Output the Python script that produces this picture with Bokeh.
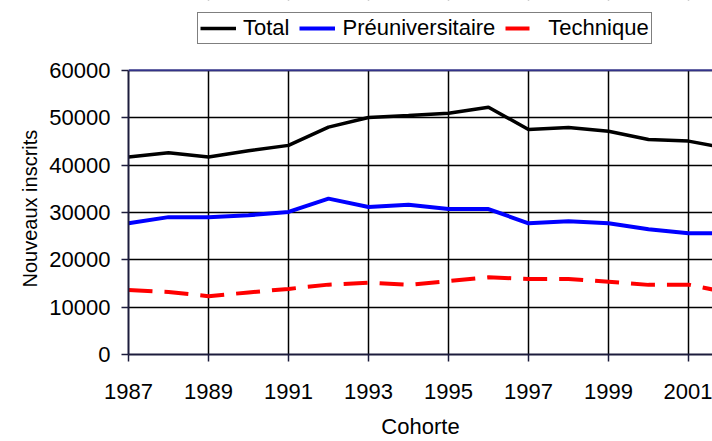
from bokeh.plotting import figure
from bokeh.models import (ColumnDataSource, Legend, LegendItem, FixedTicker,
                          Range1d, Span, BoxAnnotation, Title)
from bokeh.embed import file_html
from bokeh.resources import INLINE

# ---- data ----
cohortes = [1987, 1988, 1989, 1990, 1991, 1992, 1993, 1994, 1995,
            1996, 1997, 1998, 1999, 2000, 2001, 2002]
total = [41700, 42600, 41700, 43000, 44150, 48000, 50050, 50450, 50950,
         52200, 47500, 47900, 47150, 45400, 45050, 43500]
preuniversitaire = [27700, 29000, 29000, 29400, 30100, 32900, 31150, 31600,
                    30700, 30700, 27700, 28150, 27700, 26450, 25600, 25600]
technique = [13600, 13200, 12300, 13100, 13850, 14750, 15150, 14700, 15500,
             16300, 15950, 15950, 15350, 14700, 14750, 13050]

x_ticks = [1987, 1989, 1991, 1993, 1995, 1997, 1999, 2001]
y_ticks = [0, 10000, 20000, 30000, 40000, 50000, 60000]
Y_MAX = 60000

FONT = "Liberation Sans"
AXIS_COL = "#1c1c3c"

src = ColumnDataSource(dict(x=cohortes, total=total,
                            pre=preuniversitaire, tech=technique))

# frame spans the full height above the x axis; the band above 60000
# holds the legend (as in the reference, the legend sits above the grid)
p = figure(width=712, height=441, output_backend="svg", toolbar_location=None,
           x_range=Range1d(1987, 2001.6),
           y_range=Range1d(0, Y_MAX * 355 / 285),
           min_border_left=128, min_border_right=0, min_border_top=0,
           min_border_bottom=86)
p.outline_line_color = None
p.background_fill_color = "white"
p.border_fill_color = "white"

r_total = p.line("x", "total", source=src, line_color="black", line_width=3.5)
r_pre = p.line("x", "pre", source=src, line_color="#0000ff", line_width=4)
r_tech = p.line("x", "tech", source=src, line_color="#ff0000", line_width=4,
                line_dash="24 12")

for ax in (p.xaxis[0], p.yaxis[0]):
    ax.axis_line_color = AXIS_COL
    ax.axis_line_width = 2
    ax.major_tick_line_color = AXIS_COL
    ax.major_tick_line_width = 1.5
    ax.major_tick_out = 7
    ax.major_tick_in = 0
    ax.minor_tick_line_color = None
    ax.major_label_text_font = FONT
    ax.major_label_text_font_size = "22px"
    ax.major_label_text_color = "black"
    ax.major_label_text_line_height = 1.0
    ax.axis_label_text_font = FONT
    ax.axis_label_text_font_size = "22px"
    ax.axis_label_text_font_style = "normal"
    ax.axis_label_text_color = "black"
    ax.axis_label_text_line_height = 1.0

p.yaxis[0].bounds = (0, Y_MAX)
p.xaxis[0].ticker = FixedTicker(ticks=x_ticks)
p.yaxis[0].ticker = FixedTicker(ticks=y_ticks)
p.xaxis[0].major_label_overrides = {t: str(t) for t in x_ticks}
p.yaxis[0].major_label_overrides = {t: str(t) for t in y_ticks}
p.xaxis[0].axis_label = "Cohorte"
p.xaxis[0].major_label_standoff = 22
p.yaxis[0].major_label_standoff = 11
p.xaxis[0].axis_label_standoff = 12

# y axis title: placed along the 0..60000 part of the frame
ytitle = Title(text="Nouveaux inscrits", align="left", offset=67, standoff=11,
               text_font=FONT, text_font_size="20px",
               text_font_style="normal", text_color="black")
p.add_layout(ytitle, "left")

p.xgrid[0].ticker = FixedTicker(ticks=x_ticks)
p.ygrid[0].ticker = FixedTicker(ticks=y_ticks)
for g in (p.xgrid[0], p.ygrid[0]):
    g.grid_line_color = "black"
    g.grid_line_width = 1.5

# blank band above the plotting area (hides grid lines there)
band = BoxAnnotation(bottom=Y_MAX, fill_color="white", fill_alpha=1,
                     line_color=None)
p.add_layout(band)

top = Span(location=Y_MAX, dimension="width", line_color="#333388",
           line_width=2)
p.add_layout(top)

legend = Legend(items=[LegendItem(label="Total", renderers=[r_total]),
                       LegendItem(label="Préuniversitaire", renderers=[r_pre]),
                       LegendItem(label="Technique", renderers=[r_tech])],
                orientation="horizontal", location=(69, 310))
legend.label_text_font = FONT
legend.label_text_font_size = "22px"
legend.label_text_color = "black"
legend.border_line_color = "black"
legend.border_line_width = 1.5
legend.background_fill_color = "white"
legend.background_fill_alpha = 1
legend.padding = 2
legend.margin = 0
legend.spacing = 10
legend.label_standoff = 7
legend.glyph_width = 36
legend.glyph_height = 22
legend.label_height = 22
p.add_layout(legend, "center")

open("out.html", "w").write(file_html(p, INLINE))
